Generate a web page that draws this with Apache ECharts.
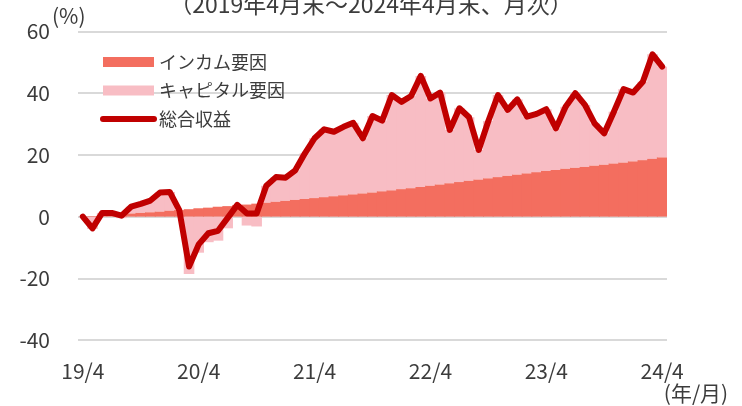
<!DOCTYPE html>
<html><head><meta charset="utf-8">
<script src="https://cdn.jsdelivr.net/npm/echarts@6/dist/echarts.min.js"></script>
<style>html,body{margin:0;padding:0;background:#fff}#c{width:742px;height:406px}</style>
</head><body><div id="c"></div>
<script>
const categories = [
 '19/4','19/5','19/6','19/7','19/8','19/9','19/10','19/11','19/12','20/1','20/2','20/3',
 '20/4','20/5','20/6','20/7','20/8','20/9','20/10','20/11','20/12','21/1','21/2','21/3',
 '21/4','21/5','21/6','21/7','21/8','21/9','21/10','21/11','21/12','22/1','22/2','22/3',
 '22/4','22/5','22/6','22/7','22/8','22/9','22/10','22/11','22/12','23/1','23/2','23/3',
 '23/4','23/5','23/6','23/7','23/8','23/9','23/10','23/11','23/12','24/1','24/2','24/3',
 '24/4'];
const xTickLabels = ['19/4','20/4','21/4','22/4','23/4','24/4'];
const seriesNames = ['インカム要因','キャピタル要因','総合収益'];
// income gain (%)
const income = [
 0.0,0.2,0.4,0.6,0.8,1.0,1.2,1.4,1.6,1.9,2.1,2.4,
 2.7,2.9,3.2,3.4,3.7,3.9,4.2,4.5,4.8,5.1,5.4,5.7,
 6.0,6.3,6.6,6.9,7.2,7.5,7.8,8.2,8.5,8.9,9.2,9.6,
 10.0,10.4,10.8,11.2,11.6,12.0,12.4,12.8,13.2,13.6,14.0,14.4,
 14.8,15.1,15.5,15.8,16.1,16.5,16.8,17.2,17.5,17.9,18.3,18.7,
 19.2];
// total return (%)
const total = [
 0.0,-3.8,1.2,1.2,0.3,3.2,4.1,5.2,7.8,8.0,2.0,-16.2,
 -9.0,-5.4,-4.6,-0.4,3.8,1.0,1.0,10.0,12.8,12.6,15.0,20.5,
 25.4,28.3,27.5,29.1,30.4,25.4,32.6,31.1,39.4,37.2,39.1,45.6,
 38.3,40.2,28.1,35.1,32.2,21.6,31.0,39.4,34.6,38.0,32.4,33.3,
 34.8,28.6,35.6,40.0,36.2,30.2,27.0,34.0,41.3,40.2,43.7,52.6,
 48.6];
// capital gain = total - income
const capital = total.map((t, i) => Math.round((t - income[i]) * 10) / 10);

const FONT = '"Noto Sans CJK JP", "Noto Sans", sans-serif';
const TXT = '#3c3c3c';
const chart = echarts.init(document.getElementById('c'), null, {renderer: 'canvas'});
chart.setOption({
  animation: false,
  backgroundColor: '#fff',
  textStyle: {fontFamily: FONT},
  grid: {left: 78, right: 75, top: 31.5, bottom: 66, containLabel: false},
  legend: {
    orient: 'vertical', left: 95, top: 48,
    itemWidth: 51, itemHeight: 10, itemGap: 10.5,
    textStyle: {fontSize: 18, color: TXT, fontFamily: FONT},
    data: [
      {name: seriesNames[0], icon: 'rect'},
      {name: seriesNames[1], icon: 'rect'},
      {name: seriesNames[2], lineStyle: {width: 6, cap: 'round'}, itemStyle: {opacity: 0}}
    ]
  },
  xAxis: {
    type: 'category', data: categories, boundaryGap: true,
    axisLine: {show: false}, axisTick: {show: false},
    axisLabel: {
      interval: (i, v) => xTickLabels.includes(v),
      fontSize: 21, color: TXT, margin: 21, fontFamily: FONT
    },
    splitLine: {show: false}
  },
  yAxis: {
    type: 'value', min: -40, max: 60, interval: 20,
    axisLine: {show: false}, axisTick: {show: false},
    axisLabel: {fontSize: 21, color: TXT, margin: 28, fontFamily: FONT},
    splitLine: {lineStyle: {color: '#D9D9D9', width: 2}}
  },
  graphic: [
    {type: 'text', left: 'center', top: -7, style: {text: '（2019年4月末～2024年4月末、月次）', fontSize: 23, fill: TXT, fontFamily: FONT}},
    {type: 'text', x: 52, y: 16, style: {text: '(%)', fontSize: 21, fill: TXT, fontFamily: FONT, verticalAlign: 'middle', align: 'left'}},
    {type: 'text', x: 696, y: 393, style: {text: '(年/月)', fontSize: 21, fill: TXT, fontFamily: FONT, verticalAlign: 'middle', align: 'center'}}
  ],
  series: [
    {name: seriesNames[0], type: 'bar', stack: 'r', data: income, barWidth: 10.6,
     itemStyle: {color: '#F36E5F'}, z: 2},
    {name: seriesNames[1], type: 'bar', stack: 'r', data: capital, barWidth: 10.6,
     itemStyle: {color: '#F8BDC4'}, z: 1},
    {name: seriesNames[2], type: 'line', data: total, symbol: 'none', z: 5,
     lineStyle: {color: '#C00000', width: 6, join: 'round', cap: 'round'},
     itemStyle: {color: '#C00000'}}
  ]
});
</script></body></html>
